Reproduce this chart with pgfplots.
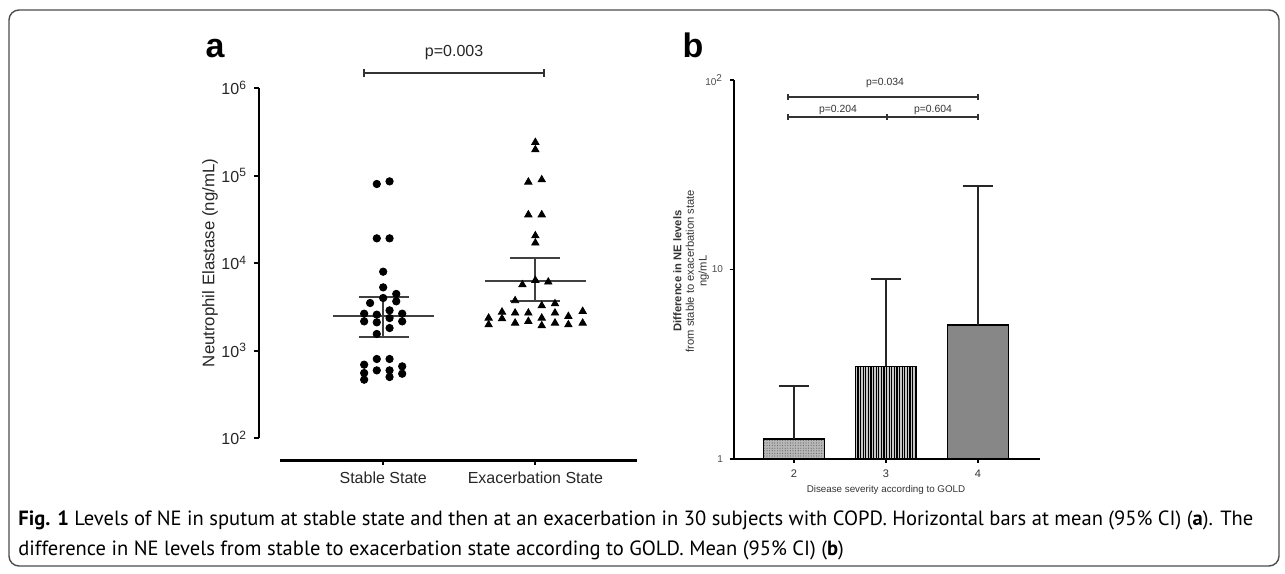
\documentclass[border=0pt]{standalone}
\usepackage{fontspec}
\setmainfont{Liberation Sans}
\newfontfamily\capfont{PT Sans}
\usepackage{pgfplots}
\pgfplotsset{compat=1.18}
\usetikzlibrary{patterns.meta}
\newsavebox{\capbox}
\newsavebox{\capboxb}
\begin{document}
\sbox{\capbox}{\capfont\fontsize{10.3}{12}\selectfont \textbf{Fig. 1} Levels of NE in sputum at stable state and then at an exacerbation in 30 subjects with COPD. Horizontal bars at mean (95\% CI) (\textbf{a}). The}%
\sbox{\capboxb}{\capfont\fontsize{10.3}{12}\selectfont difference in NE levels from stable to exacerbation state according to GOLD. Mean (95\% CI) (\textbf{b})}%
\pgfmathsetmacro\capscale{617.5/\wd\capbox}%
\begin{tikzpicture}
\path[use as bounding box] (0,0) rectangle (642.5pt,-286.5pt);
\draw[black!70, line width=0.7pt, rounded corners=5pt] (4.5pt,-5pt) rectangle (639.5pt,-283pt);
\node[font=\fontsize{17}{17}\selectfont\bfseries, anchor=base] at (107.5pt,-28.5pt) {a};
\node[font=\fontsize{17}{17}\selectfont\bfseries, anchor=base] at (346.5pt,-28.5pt) {b};
\node[font=\fontsize{8.4}{9}\selectfont, rotate=90, text=black!85] at (105pt,-131.5pt) {Neutrophil Elastase (ng/mL)};

% ---------------- panel a ----------------
\begin{axis}[at={(129.5pt,-230pt)}, anchor=south west, scale only axis,
  width=189pt, height=186pt,
  xmin=0.184, xmax=2.668, ymode=log, ymin=56.06, ymax=1e6,
  axis x line*=bottom, axis y line*=left, axis line style={draw=none},
  xtick={1,2}, xticklabels={Stable State, Exacerbation State},
  ytick={100,1000,10000,100000,1000000},
  yticklabels={10\textsuperscript{2},10\textsuperscript{3},10\textsuperscript{4},10\textsuperscript{5},10\textsuperscript{6}},
  yminorticks=false,
  tick align=outside, major tick length=2.5pt, tick style={black, line width=1pt},
  ticklabel style={font=\fontsize{8}{9}\selectfont, text=black!85},
  clip=false]
\draw[black, line width=1pt] (axis cs:0.184,100) -- (axis cs:0.184,1e6);
\draw[black, line width=1.5pt] (axis cs:0.324,56.06) -- (axis cs:2.668,56.06);
% stable state
\addplot[only marks, mark=*, mark size=1.85pt, black] coordinates {
(0.958,80000) (1.042,85700)
(0.958,19140) (1.042,19140)
(1,7960) (1,5270) (1.086,4430) (0.914,3490) (1,3981) (1.086,3650)
(0.875,2636) (0.875,2153) (0.958,2570) (0.958,2100) (1.042,2877) (1.042,2350)
(1.125,2636) (1.125,2153) (1.042,1807) (0.958,1545)
(0.875,689) (0.875,553) (0.875,464) (0.958,800) (1.042,800) (0.958,593)
(1.042,593) (1.042,498) (1.125,659) (1.125,543)
};
% exacerbation state
\addplot[only marks, mark=triangle*, mark size=2.1pt, black] coordinates {
(2,239300) (2,197200)
(1.954,84300) (2.042,89500)
(1.954,35600) (2.042,35600)
(2,20500) (2,16940)
(1.915,5650) (2,6340) (2.085,6070)
(1.867,3715) (2.042,3250) (2.129,3430)
(1.693,2350) (1.693,1972) (1.781,2754) (1.781,2312)
(1.867,2685) (1.867,2061) (1.954,2685) (1.954,2153)
(2.042,2350) (2.042,1923) (2.129,2685) (2.129,2061)
(2.217,2455) (2.217,1972) (2.311,2805) (2.311,2061)
};
% mean and 95% CI
\addplot[black!75, line width=1pt] coordinates {(0.670,2455) (1.335,2455)};
\addplot[black!75, line width=1pt] coordinates {(0.838,4080) (1.169,4080)};
\addplot[black!75, line width=1pt] coordinates {(0.838,1426) (1.169,1426)};
\addplot[black!75, line width=1pt] coordinates {(1,1426) (1,4080)};
\addplot[black!75, line width=1pt] coordinates {(1.670,6280) (2.333,6280)};
\addplot[black!75, line width=1pt] coordinates {(1.835,11300) (2.165,11300)};
\addplot[black!75, line width=1pt] coordinates {(1.835,3715) (2.165,3715)};
\addplot[black!75, line width=1pt] coordinates {(2,3715) (2,11300)};
% bracket
\draw[black!80, line width=0.8pt] (axis cs:0.875,1.48e6) -- (axis cs:2.057,1.48e6);
\draw[black!80, line width=0.8pt] ([yshift=2pt]axis cs:0.875,1.48e6) -- ([yshift=-2pt]axis cs:0.875,1.48e6);
\draw[black!80, line width=0.8pt] ([yshift=2pt]axis cs:2.057,1.48e6) -- ([yshift=-2pt]axis cs:2.057,1.48e6);
\node[font=\fontsize{8}{9}\selectfont, text=black!85] at (axis cs:1.466,2.51e6) {p=0.003};
\end{axis}

% ---------------- panel b ----------------
\node[font=\fontsize{5.6}{6.3}\selectfont, rotate=90, align=center, text=black!80] at (345.5pt,-135.5pt)
  {\textbf{Difference in NE levels}\\from stable to exacerbation state\\ng/mL};
\node[font=\fontsize{4.9}{6}\selectfont, text=black!80] at (443pt,-245pt) {Disease severity according to GOLD};
\begin{axis}[at={(367pt,-229.5pt)}, anchor=south west, scale only axis,
  width=153pt, height=189.5pt,
  xmin=1.348, xmax=4.674, ymode=log, ymin=1, ymax=100,
  axis x line*=bottom, axis y line*=left, axis line style={black, line width=0.7pt},
  xtick={2,3,4}, xticklabels={2,3,4},
  ytick={1,10,100}, yticklabels={1,10,10\textsuperscript{2}},
  yminorticks=false,
  tick align=outside, major tick length=2pt, tick style={black, line width=0.6pt},
  yticklabel style={font=\fontsize{5}{6}\selectfont, text=black!70},
  xticklabel style={font=\fontsize{5.5}{6}\selectfont, text=black!80},
  clip=false]
\addplot[ybar, bar width=0.66, bar shift=0pt, draw=black, line width=0.6pt,
  preaction={fill=black!28}, pattern={Dots[distance=1.3pt, radius=0.3pt]}, pattern color=black!60,
  error bars/.cd, y dir=plus, y explicit,
  error bar style={black!85, line width=0.6pt},
  error mark options={rotate=90, black!85, line width=0.6pt, mark size=7.7pt}]
  coordinates {(2,1.275) +- (0,1.155)};
\addplot[ybar, bar width=0.66, bar shift=0pt, draw=black, line width=0.6pt,
  preaction={fill=black!22}, pattern={Lines[angle=90, distance=1.3pt, line width=0.6pt]}, pattern color=black,
  error bars/.cd, y dir=plus, y explicit,
  error bar style={black!85, line width=0.6pt},
  error mark options={rotate=90, black!85, line width=0.6pt, mark size=7.7pt}]
  coordinates {(3,3.09) +- (0,5.82)};
\addplot[ybar, bar width=0.66, bar shift=0pt, draw=black, line width=0.6pt,
  fill=black!47,
  error bars/.cd, y dir=plus, y explicit,
  error bar style={black!85, line width=0.6pt},
  error mark options={rotate=90, black!85, line width=0.6pt, mark size=7.7pt}]
  coordinates {(4,5.09) +- (0,22.5)};
% brackets
\draw[black!80, line width=0.6pt] (axis cs:1.935,81.3) -- (axis cs:4,81.3);
\draw[black!80, line width=0.6pt] (axis cs:1.935,63.8) -- (axis cs:4,63.8);
\draw[black!80, line width=0.6pt] ([yshift=1.5pt]axis cs:1.935,81.3) -- ([yshift=-1.5pt]axis cs:1.935,81.3);
\draw[black!80, line width=0.6pt] ([yshift=1.5pt]axis cs:4,81.3) -- ([yshift=-1.5pt]axis cs:4,81.3);
\draw[black!80, line width=0.6pt] ([yshift=1.5pt]axis cs:1.935,63.8) -- ([yshift=-1.5pt]axis cs:1.935,63.8);
\draw[black!80, line width=0.6pt] ([yshift=1.5pt]axis cs:3.01,63.8) -- ([yshift=-1.5pt]axis cs:3.01,63.8);
\draw[black!80, line width=0.6pt] ([yshift=1.5pt]axis cs:4,63.8) -- ([yshift=-1.5pt]axis cs:4,63.8);
\node[font=\fontsize{5.2}{6}\selectfont, text=black!80] at (axis cs:2.989,96.4) {p=0.034};
\node[font=\fontsize{5.2}{6}\selectfont, text=black!80] at (axis cs:2.478,69.4) {p=0.204};
\node[font=\fontsize{5.2}{6}\selectfont, text=black!80] at (axis cs:3.511,69.4) {p=0.604};
\end{axis}

% ---------------- caption ----------------
\node[anchor=base west, inner sep=0pt, text=black!85] at (9pt,-262.5pt) {\scalebox{\capscale}[1]{\usebox{\capbox}}};
\node[anchor=base west, inner sep=0pt, text=black!85] at (9pt,-277.5pt) {\scalebox{\capscale}[1]{\usebox{\capboxb}}};
\end{tikzpicture}
\end{document}
